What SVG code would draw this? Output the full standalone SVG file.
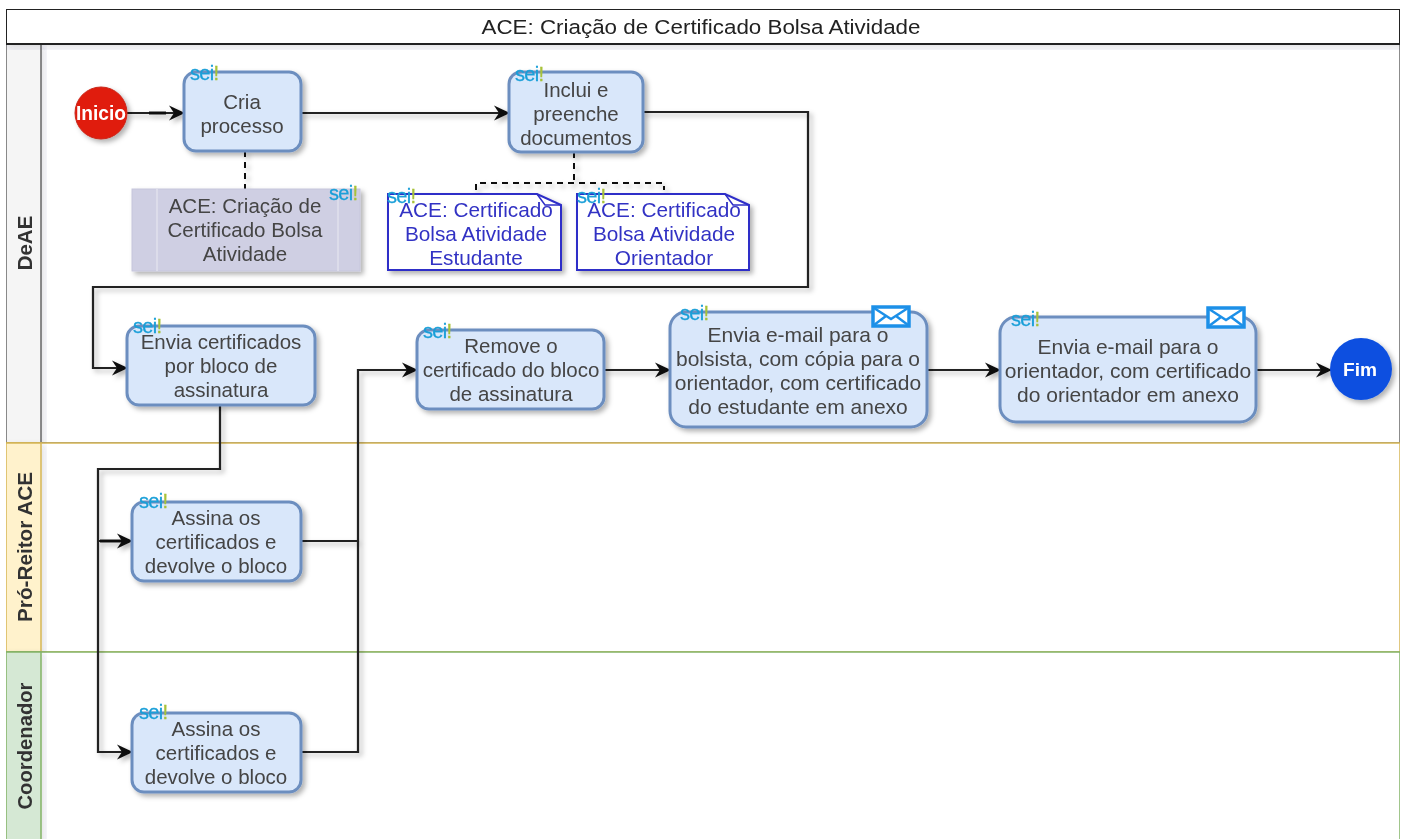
<svg xmlns="http://www.w3.org/2000/svg" width="1405" height="839" viewBox="0 0 1405 839">
<style>
text{font-family:"Liberation Sans",Arial,sans-serif;font-size:20.5px;fill:#444;text-anchor:middle}
.task{fill:#d9e7fa;stroke:#6c8ebf;stroke-width:3}
.doc{fill:#fff;stroke:#2f2fc8;stroke-width:2}
.doct{fill:#3333c4;font-size:20.8px}
.eml{font-size:21px}
.sei{font-size:20px;fill:#1a9fd8;text-anchor:start;letter-spacing:-.7px;stroke:#1a9fd8;stroke-width:.3}
.bang{fill:#a8c23a;stroke:#a8c23a}
.lane{font-weight:bold;fill:#333}
.c{fill:none;stroke:#222;stroke-width:2.2}
.t{fill:none;stroke:#111;stroke-width:3}
.d{fill:none;stroke:#111;stroke-width:2;stroke-dasharray:6 5}
.mail{fill:#fff;stroke:#1e90e8;stroke-width:3.5}
</style>
<defs>
<filter id="sh" x="-15%" y="-15%" width="130%" height="130%"><feDropShadow dx="3" dy="3" stdDeviation="2.5" flood-color="#000" flood-opacity=".3"/></filter>
<filter id="shl" x="-15%" y="-15%" width="130%" height="130%"><feDropShadow dx="3" dy="3" stdDeviation="3" flood-color="#335" flood-opacity=".14"/></filter>
<filter id="soft" x="0" y="0" width="100%" height="100%"><feGaussianBlur stdDeviation=".4"/></filter>
<marker id="a" markerWidth="18" markerHeight="18" refX="15" refY="8" orient="auto" markerUnits="userSpaceOnUse"><path d="M0 0.5L16 8L0 15.5L5 8Z" fill="#111"/></marker>
<g id="seil"><text class="sei" x="0" y="0">sei<tspan class="bang">!</tspan></text></g>
<g id="env"><rect class="mail" x="0" y="0" width="36" height="19"/><path d="M1 1L18 12L35 1M1 18L13 9M35 18L23 9" fill="none" stroke="#1e90e8" stroke-width="2.5"/></g>
</defs>
<g filter="url(#soft)">
<g id="pool">
<rect x="6" y="44" width="1394" height="399" fill="#fff" stroke="#666" stroke-width="1.5"/>
<rect x="6" y="44" width="35" height="399" fill="#f5f5f5" stroke="#666" stroke-width="1.5" filter="url(#shl)"/>
<rect x="6" y="443" width="1394" height="209" fill="#fff" stroke="#d6b656" stroke-width="1.5"/>
<rect x="6" y="443" width="35" height="209" fill="#fff2cc" stroke="#d6b656" stroke-width="1.5" filter="url(#shl)"/>
<rect x="6" y="652" width="1394" height="190" fill="#fff" stroke="#82b366" stroke-width="1.5"/>
<rect x="6" y="652" width="35" height="190" fill="#d5e8d4" stroke="#82b366" stroke-width="1.5" filter="url(#shl)"/>
<rect x="6" y="9" width="1394" height="35" fill="#fff" stroke="#222" stroke-width="2" filter="url(#shl)"/>
<text x="701" y="34" textLength="439" lengthAdjust="spacingAndGlyphs" style="fill:#222">ACE: Criação de Certificado Bolsa Atividade</text>
<text class="lane" transform="translate(32 243) rotate(-90)">DeAE</text>
<text class="lane" transform="translate(32 547) rotate(-90)" textLength="150" lengthAdjust="spacingAndGlyphs">Pró-Reitor ACE</text>
<text class="lane" transform="translate(32 746) rotate(-90)" textLength="127" lengthAdjust="spacingAndGlyphs">Coordenador</text>
</g>
<g id="connectors" filter="url(#sh)">
<path class="c" d="M127 113H184" marker-end="url(#a)"/>
<path class="t" d="M149 113H166"/>
<path class="c" d="M301 113H509" marker-end="url(#a)"/>
<path class="c" d="M643 112H808V287H93V368H127" marker-end="url(#a)"/>
<path class="c" d="M220 405V469H98V752H132" marker-end="url(#a)"/>
<path class="c" d="M98 541H132" marker-end="url(#a)"/>
<path class="t" d="M100 541H122"/>
<path class="c" d="M301 541H358V370H417" marker-end="url(#a)"/>
<path class="c" d="M301 752H358V541"/>
<path class="c" d="M604 370H670" marker-end="url(#a)"/>
<path class="c" d="M927 370H1000" marker-end="url(#a)"/>
<path class="c" d="M1256 370H1331" marker-end="url(#a)"/>
<path class="d" d="M245 151V189"/>
<path class="d" d="M574 152V183M476 190V183H664V190"/>
</g>
<g id="inicio"><circle cx="101" cy="113" r="26" fill="#e01b0c" stroke="#c9291c" stroke-width="1" filter="url(#sh)"/><text x="101" y="120" textLength="50" lengthAdjust="spacingAndGlyphs" style="fill:#fff;font-weight:bold">Inicio</text></g>
<g id="cria"><rect class="task" x="184" y="72" width="117" height="79" rx="12" filter="url(#sh)"/><use href="#seil" x="190" y="80"/><text x="242" y="109">Cria</text><text x="242" y="133">processo</text></g>
<g id="inclui"><rect class="task" x="509" y="72" width="134" height="80" rx="12" filter="url(#sh)"/><use href="#seil" x="515" y="81"/><text x="576" y="97">Inclui e</text><text x="576" y="121">preenche</text><text x="576" y="145">documentos</text></g>
<g id="ace-processo"><rect x="132" y="189" width="228" height="82" fill="#cfcfe3" stroke="#c6c6dc" filter="url(#sh)"/><path d="M157 189V271M338 189V271" stroke="#dcdcea" stroke-width="2"/><use href="#seil" x="329" y="200"/><text x="245" y="213">ACE: Criação de</text><text x="245" y="237">Certificado Bolsa</text><text x="245" y="261">Atividade</text></g>
<g id="doc-estudante"><path class="doc" d="M388 194H537L561 205V270H388Z" filter="url(#sh)"/><path d="M537 194L545 205H561" fill="none" stroke="#2f2fc8" stroke-width="1.5"/><use href="#seil" x="387" y="203"/><text class="doct" x="476" y="217">ACE: Certificado</text><text class="doct" x="476" y="241">Bolsa Atividade</text><text class="doct" x="476" y="265">Estudante</text></g>
<g id="doc-orientador"><path class="doc" d="M577 194H725L749 205V270H577Z" filter="url(#sh)"/><path d="M725 194L733 205H749" fill="none" stroke="#2f2fc8" stroke-width="1.5"/><use href="#seil" x="577" y="203"/><text class="doct" x="664" y="217">ACE: Certificado</text><text class="doct" x="664" y="241">Bolsa Atividade</text><text class="doct" x="664" y="265">Orientador</text></g>
<g id="envia-cert"><rect class="task" x="127" y="326" width="188" height="79" rx="12" filter="url(#sh)"/><use href="#seil" x="133" y="333"/><text x="221" y="349">Envia certificados</text><text x="221" y="373">por bloco de</text><text x="221" y="397">assinatura</text></g>
<g id="remove"><rect class="task" x="417" y="330" width="187" height="79" rx="12" filter="url(#sh)"/><use href="#seil" x="423" y="338"/><text x="511" y="353">Remove o</text><text x="511" y="377">certificado do bloco</text><text x="511" y="401">de assinatura</text></g>
<g id="email-bolsista"><rect class="task" x="670" y="312" width="257" height="115" rx="16" filter="url(#sh)"/><use href="#seil" x="680" y="320"/><use href="#env" x="873" y="307"/><text class="eml" x="798" y="342">Envia e-mail para o</text><text class="eml" x="798" y="366">bolsista, com cópia para o</text><text class="eml" x="798" y="390">orientador, com certificado</text><text class="eml" x="798" y="414">do estudante em anexo</text></g>
<g id="email-orientador"><rect class="task" x="1000" y="317" width="256" height="105" rx="16" filter="url(#sh)"/><use href="#seil" x="1011" y="326"/><use href="#env" x="1208" y="308"/><text class="eml" x="1128" y="354">Envia e-mail para o</text><text class="eml" x="1128" y="378">orientador, com certificado</text><text class="eml" x="1128" y="402">do orientador em anexo</text></g>
<g id="fim"><circle cx="1361" cy="369" r="31" fill="#0b50e0" filter="url(#sh)"/><text x="1360" y="376" textLength="34" lengthAdjust="spacingAndGlyphs" style="fill:#fff;font-weight:bold;font-size:19px">Fim</text></g>
<g id="assina1"><rect class="task" x="132" y="502" width="169" height="79" rx="12" filter="url(#sh)"/><use href="#seil" x="139" y="508"/><text x="216" y="525">Assina os</text><text x="216" y="549">certificados e</text><text x="216" y="573">devolve o bloco</text></g>
<g id="assina2"><rect class="task" x="132" y="713" width="169" height="79" rx="12" filter="url(#sh)"/><use href="#seil" x="139" y="719"/><text x="216" y="736">Assina os</text><text x="216" y="760">certificados e</text><text x="216" y="784">devolve o bloco</text></g>
</g>
</svg>
